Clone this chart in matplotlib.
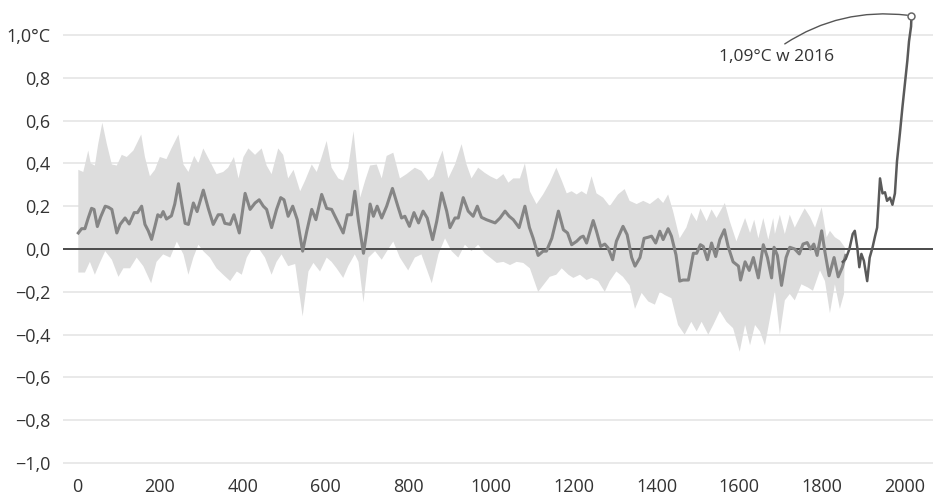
import numpy as np
import matplotlib
matplotlib.use("Agg")
import matplotlib.pyplot as plt

# proxy reconstruction (smoothed), years 1-1857
proxy_years = [3, 11, 19, 27, 35, 41, 49, 57, 68, 76, 84, 96, 104, 116, 126, 138, 146, 156, 164, 172,
               180, 188, 195, 202, 208, 216, 228, 236, 245, 253, 261, 269, 281, 290, 305, 317, 329,
               341, 350, 357, 370, 379, 392, 406, 418, 430, 440, 450, 458, 470, 482, 492, 500, 510,
               521, 532, 545, 555, 567, 577, 591, 603, 615, 629, 643, 653, 663,
               671, 680, 692, 700, 708, 716, 725, 736, 748, 762, 775, 784, 792, 803, 814, 825, 836,
               846, 859, 869, 881, 893, 901, 913, 921, 933, 945, 957, 967, 977, 989,
               1010, 1022, 1034, 1044, 1054, 1068, 1082, 1093, 1102, 1114, 1126, 1134, 1147, 1163,
               1175, 1185, 1195, 1207, 1217, 1223, 1231, 1247, 1255, 1265, 1275, 1283, 1294, 1303,
               1319, 1329, 1340,
               1348, 1360, 1370, 1380, 1388, 1398, 1408, 1416, 1428, 1436, 1447, 1456, 1464, 1477,
               1489, 1497, 1506, 1513, 1523, 1533, 1543, 1553, 1564, 1573, 1585, 1598, 1603, 1614,
               1624, 1634, 1646, 1658, 1668, 1678,
               1684, 1692, 1702, 1713, 1722, 1734, 1745, 1754, 1764, 1772, 1780, 1788, 1799, 1807,
               1817, 1829, 1839, 1849, 1857]
proxy_vals = [.075, .095, .095, .145, .19, .185, .105, .15, .2, .195, .185, .075, .115, .145, .117, .17,
              .17, .2, .115, .085, .045, .105, .16, .15, .175, .14, .155, .21, .305, .21, .12, .115,
              .215, .175, .275, .19, .115,
              .16, .16, .12, .115, .16, .075, .26, .185, .215, .23, .2, .185, .1, .185, .24, .23, .153,
              .2, .137, -.01, .083, .185, .137, .255, .19, .185, .13, .075, .16, .16,
              .27, .13, -.02, .083, .21, .153, .2, .145, .2, .283, .2, .145, .153, .106, .17, .122, .177,
              .145, .044, .13, .262, .177, .1, .145, .145, .24, .177, .153, .2, .148, .137,
              .122, .145, .177, .153, .137, .1, .2, .1, .05, -.03, -.01, -.01, .05, .177,
              .09, .075, .02, .036, .055, .06, .028, .133, .083, .012, .023, .005, -.05, .036,
              .106, .067, -.04,
              -.08, -.04, .05, .055, .06, .028, .083, .044, .095, .06, -.027, -.15, -.145, -.145,
              -.02, -.02, .02, .012, -.05, .028, -.035, .044, .09, .012, -.06, -.08, -.145, -.06,
              -.1, -.04, -.135, .02, -.04, -.135,
              .008, -.03, -.17, -.04, .008, 0, -.023, .023, .03, 0, .023, -.03, .085, -.015,
              -.125, -.04, -.13, -.085, -.03]

# uncertainty band
upper_years = [3, 15, 27, 33, 43, 51, 61, 72, 84, 96, 108, 120, 136, 155, 164, 176, 188, 200, 216, 228,
               245, 257, 269, 283, 293, 305, 321,
               337, 353, 365, 379, 390, 402, 414, 430, 446, 458, 470, 486, 498, 510, 523, 539, 551,
               567, 579, 591, 603, 615, 631, 643, 655, 668,
               684, 696, 708, 724, 736, 748, 764, 780, 796, 816, 832, 849, 861, 873, 883, 897, 913,
               929, 941, 953, 969, 985, 998,
               1014, 1030, 1042, 1054, 1070, 1082, 1094, 1110, 1126, 1142, 1158, 1171, 1183, 1195,
               1207, 1219, 1231, 1243, 1255, 1271, 1287, 1307, 1323, 1335,
               1352, 1368, 1384, 1404, 1416, 1428, 1440, 1456, 1472, 1484, 1497, 1506, 1521, 1533,
               1545, 1565, 1577, 1593, 1614, 1626, 1636, 1646, 1658, 1670,
               1682, 1686, 1698, 1710, 1722, 1734, 1747, 1758, 1771, 1783, 1799, 1811, 1819, 1831,
               1843, 1855]
upper_vals = [.37, .36, .46, .40, .39, .49, .59, .49, .395, .39, .44, .43, .46, .535, .43, .34, .37, .43,
              .42, .47, .535, .395, .36, .435, .40, .47, .41,
              .35, .36, .38, .43, .33, .43, .47, .44, .47, .39, .35, .47, .44, .33, .37, .27, .32,
              .395, .36, .43, .505, .38, .33, .32, .38, .55,
              .24, .32, .39, .395, .33, .435, .45, .33, .35, .38, .365, .32, .34, .41, .46, .33, .395,
              .49, .395, .33, .38, .356, .34,
              .325, .35, .31, .33, .33, .40, .27, .21, .255, .31, .38, .32, .26, .27,
              .255, .27, .255, .34, .26, .24, .2, .255, .28, .225,
              .21, .225, .21, .24, .215, .255, .177, .05, .1, .17, .13, .19, .13, .185,
              .145, .215, .13, .036, .145, .075, .137, .05, .145, .044,
              .145, .07, .16, .07, .16, .1, .15, .19, .15, .1, .195, .055, .085, .055,
              .04, .008]
lower_years = [3, 19, 31, 43, 55, 68, 84, 100, 112, 128, 144, 160, 179, 192, 208, 225, 241, 257, 269,
               281, 293, 305, 321,
               337, 353, 370, 386, 398, 410, 422, 438, 454, 470, 482, 494, 510, 527, 545, 559, 571,
               587, 603, 615, 627, 643, 655, 671,
               680, 692, 704, 720, 736, 752, 764, 780, 800, 816, 832, 857, 873, 889, 905, 921, 937,
               953, 969, 985,
               998, 1014, 1030, 1046, 1062, 1078, 1094, 1114, 1126, 1142, 1158, 1171, 1187, 1199,
               1215, 1231, 1243, 1259, 1275, 1287, 1303, 1319, 1335,
               1348, 1364, 1380, 1396, 1408, 1420, 1436, 1452, 1468, 1484, 1497, 1509, 1525, 1537,
               1553, 1569, 1585, 1601, 1614, 1626, 1638, 1650, 1662, 1674,
               1686, 1698, 1710, 1722, 1734, 1750, 1766, 1778, 1795, 1807, 1819, 1831, 1843, 1853,
               1855]
lower_vals = [-.11, -.11, -.06, -.12, -.065, -.01, -.05, -.13, -.09, -.09, -.04, -.08, -.16, -.06,
              -.025, -.04, .035, -.025, -.12, -.04, .02, -.01, -.04,
              -.09, -.12, -.15, -.105, -.12, -.04, 0, .005, -.04, -.12, -.06, -.025, -.08, -.07,
              -.315, -.105, -.065, -.105, -.04, -.06, -.09, -.135, -.08, -.025,
              -.06, -.25, -.04, -.01, -.05, 0, .035, -.04, -.1, -.04, -.025, -.16, -.025, .05,
              -.01, -.04, .02, -.01, .02, -.02,
              -.04, -.065, -.06, -.075, -.06, -.065, -.09, -.2, -.17, -.13, -.12, -.09, -.12,
              -.135, -.12, -.145, -.135, -.15, -.2, -.15, -.105, -.13, -.17,
              -.28, -.205, -.245, -.26, -.2, -.215, -.23, -.355, -.4, -.34, -.385, -.34, -.4,
              -.355, -.29, -.34, -.37, -.48, -.355, -.45, -.355, -.385, -.45, -.325,
              -.195, -.4, -.24, -.21, -.24, -.165, -.18, -.195, -.1, -.15, -.3, -.165, -.28,
              -.21, .008]

# instrumental record
inst_years = [1850, 1857, 1866, 1874, 1879, 1885, 1890, 1895, 1901, 1909, 1915, 1922, 1928, 1933,
              1940, 1946, 1952, 1957, 1964, 1970, 1976, 1981, 1988, 1994, 2000, 2006, 2010, 2015, 2016]
inst_vals = [-.06, -.047, 0, .07, .085, .008, -.085, -.023, -.055, -.15, -.04, .008, .06, .1,
             .33, .26, .265, .225, .24, .207, .26, .41, .54, .66, .77, .88, .97, 1.04, 1.09]

x_ticks = [0, 200, 400, 600, 800, 1000, 1200, 1400, 1600, 1800, 2000]
y_ticks = [-1.0, -0.8, -0.6, -0.4, -0.2, 0.0, 0.2, 0.4, 0.6, 0.8, 1.0]

plt.rcParams["font.family"] = ["Open Sans", "DejaVu Sans"]
text_color = "#333333"

fig = plt.figure(figsize=(9.33, 4.97), dpi=100)
ax = fig.add_axes([63 / 933, 31 / 497, 870 / 933, 466 / 497])

band_x = np.concatenate([upper_years, lower_years[::-1]])
band_y = np.concatenate([upper_vals, lower_vals[::-1]])
ax.fill(band_x, band_y, color="#dddddd", lw=0, zorder=1)

ax.axhline(0, color="#4a4a4a", lw=1.4, zorder=2)
ax.plot(proxy_years, proxy_vals, color="#858585", lw=2.2, solid_joinstyle="round", zorder=3)
ax.plot(inst_years, inst_vals, color="#5a5a5a", lw=1.8, solid_joinstyle="round", zorder=4)
ax.plot(inst_years[-1], inst_vals[-1], "o", ms=5, mfc="white", mec="#666666", mew=1.1, zorder=5)

ax.annotate("1,09°C w 2016", xy=(inst_years[-1], inst_vals[-1]), xytext=(-97, -30),
            textcoords="offset points", ha="center", va="center", fontsize=12.5, color=text_color,
            arrowprops=dict(arrowstyle="-", color="#555555", lw=1, relpos=(0.5, 1.0), patchA=None,
                            shrinkA=7, shrinkB=3, connectionstyle="arc3,rad=-0.2"))

ax.set_xlim(-34, 2068)
ax.set_ylim(-1.014, 1.1636)
ax.set_xticks(x_ticks)
ax.set_xticklabels([str(t) for t in x_ticks])
ax.set_yticks(y_ticks)
ylabels = []
for t in y_ticks:
    s = ("%.1f" % abs(t)).replace(".", ",")
    if t < 0:
        s = "\u2212" + s
    if t == 1.0:
        s += "°C"
    ylabels.append(s)
ax.set_yticklabels(ylabels)
ax.grid(axis="y", color="#e3e3e3", lw=1.1, zorder=0)
ax.set_axisbelow(True)
for s in ax.spines.values():
    s.set_visible(False)
ax.tick_params(length=0, labelsize=13, labelcolor=text_color)
ax.tick_params(axis="y", pad=9)
ax.tick_params(axis="x", pad=9)

fig.savefig("out.png", dpi=100)
